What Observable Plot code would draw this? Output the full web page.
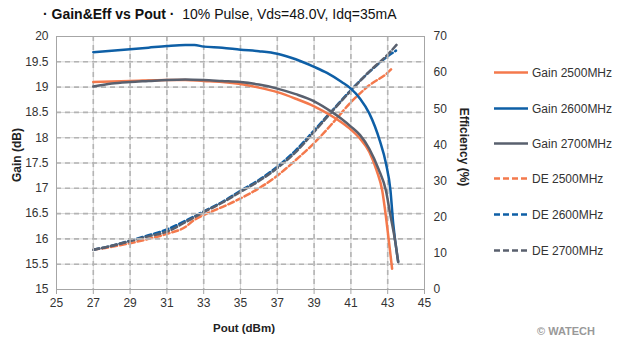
<!DOCTYPE html>
<html>
<head>
<meta charset="utf-8">
<script src="https://cdn.jsdelivr.net/npm/d3@7"></script>
<script src="https://cdn.jsdelivr.net/npm/@observablehq/plot@0.6"></script>
<style>
  body { margin: 0; background: #fff; }
  #wrap { position: relative; width: 617px; height: 351px; overflow: hidden; font-family: "Liberation Sans", Arial, sans-serif; color: #222; }
  #wrap > svg { position: absolute; left: 0; top: 0; background: transparent !important; }
  .abs { position: absolute; white-space: nowrap; line-height: 1; }
</style>
</head>
<body>
<div id="wrap"></div>
<script>
// ---- data ----
const xTicks = [25, 27, 29, 31, 33, 35, 37, 39, 41, 43, 45];
const gainTicks = [15, 15.5, 16, 16.5, 17, 17.5, 18, 18.5, 19, 19.5, 20];
const effTicks = [0, 10, 20, 30, 40, 50, 60, 70];

const gain2500Pout = [27, 29, 31, 32, 33, 34, 35, 36, 37, 38, 39, 40, 40.5, 41, 41.5, 42, 42.4, 42.7, 42.9, 43.06, 43.24];
const gain2500 =     [19.10, 19.12, 19.14, 19.14, 19.12, 19.10, 19.06, 18.99, 18.90, 18.77, 18.62, 18.42, 18.30, 18.16, 17.98, 17.72, 17.35, 16.96, 16.45, 15.97, 15.41];

const gain2600Pout = [27, 28, 29, 30, 31, 32, 32.5, 33, 34, 35, 36, 37, 38, 39, 39.7, 40.5, 41, 41.5, 42, 42.57, 42.9, 43.15, 43.3, 43.57];
const gain2600 =     [19.69, 19.72, 19.75, 19.78, 19.81, 19.83, 19.83, 19.80, 19.78, 19.74, 19.71, 19.66, 19.55, 19.40, 19.28, 19.10, 18.97, 18.77, 18.48, 17.94, 17.50, 16.96, 16.30, 15.55];

const gain2700Pout = [27, 28, 29, 30, 31, 32, 33, 34, 35, 36, 37, 38, 39, 40, 40.5, 41, 41.5, 42, 42.5, 42.9, 43.15, 43.4, 43.57];
const gain2700 =     [19.01, 19.07, 19.10, 19.12, 19.14, 19.15, 19.14, 19.12, 19.10, 19.05, 18.97, 18.86, 18.72, 18.50, 18.37, 18.22, 18.05, 17.78, 17.38, 16.96, 16.46, 15.97, 15.54];

const de2500Pout = [27, 28, 29, 30, 31, 32, 32.5, 33, 34, 35, 36, 37, 38, 39, 40, 41, 42, 43, 43.24];
const de2500 =     [11.0, 11.8, 12.8, 14.0, 15.4, 17.3, 19.3, 20.6, 22.8, 25.2, 28.0, 31.5, 35.8, 40.5, 46.0, 51.8, 56.5, 60.0, 61.2];

const de2600Pout = [27, 28, 29, 30, 31, 32, 33, 34, 35, 36, 37, 38, 39, 40, 41, 42, 43, 43.45];
const de2600 =     [11.0, 12.1, 13.5, 15.0, 16.6, 19.0, 21.6, 24.2, 27.3, 30.3, 34.0, 38.5, 44.0, 49.6, 55.2, 60.2, 64.5, 66.1];

const de2700Pout = [27, 28, 29, 30, 31, 32, 33, 34, 35, 36, 37, 38, 39, 40, 41, 42, 43, 43.57];
const de2700 =     [11.0, 12.1, 13.4, 14.7, 16.0, 18.6, 21.4, 24.0, 27.0, 30.0, 33.6, 38.0, 43.6, 49.4, 55.0, 60.3, 65.0, 68.2];

const seriesNames = ["Gain 2500MHz", "Gain 2600MHz", "Gain 2700MHz", "DE 2500MHz", "DE 2600MHz", "DE 2700MHz"];
const titleBold = "· Gain&Eff vs Pout ·";
const titleRest = "10% Pulse, Vds=48.0V, Idq=35mA";

// ---- styles ----
const ORANGE = "#f4794c", BLUE = "#0e5fa6", GRAY = "#59606e";
const colors = [ORANGE, BLUE, GRAY, ORANGE, BLUE, GRAY];
const dashes = [null, null, null, "6,3", "6,3", "6,3"];

const zip = (xs, ys) => xs.map((x, i) => ({x, y: ys[i]}));
const gainSeries = [zip(gain2500Pout, gain2500), zip(gain2600Pout, gain2600), zip(gain2700Pout, gain2700)];
const effSeries = [zip(de2500Pout, de2500), zip(de2600Pout, de2600), zip(de2700Pout, de2700)];

const xGridVals = xTicks.slice(1, -1), yGridVals = gainTicks.slice(1, -1);
const xDom = [xTicks[0], xTicks[xTicks.length - 1]], yDom = [gainTicks[0], gainTicks[gainTicks.length - 1]];

const W = 617, H = 351;
const M = {marginLeft: 56, marginRight: 193, marginTop: 36, marginBottom: 62};
const font = {fontFamily: "'Liberation Sans', Arial, sans-serif", fontSize: "12px", color: "#333", background: "transparent", overflow: "visible"};

// efficiency layer (underneath, right axis)
const p2 = Plot.plot({
  width: W, height: H, ...M, style: font,
  x: {domain: xDom, axis: null},
  y: {domain: [0, 70], axis: "right", ticks: effTicks, tickSize: 0, tickPadding: 9, tickFormat: d => String(d), label: null},
  marks: [
    ...effSeries.map((d, i) => Plot.line(d, {x: "x", y: "y", stroke: colors[i + 3], strokeWidth: 2.5, strokeDasharray: dashes[i + 3], curve: "monotone-x"}))
  ]
});

// gain layer with grid, frame, bottom and left axes
const p1 = Plot.plot({
  width: W, height: H, ...M, style: font,
  x: {domain: xDom, ticks: xTicks, tickSize: 5, tickPadding: 4, tickFormat: d => String(d), label: null},
  y: {domain: yDom, ticks: gainTicks, tickSize: 0, tickPadding: 8, tickFormat: d => String(d), label: null},
  marks: [
    Plot.ruleX(xGridVals, {x: d => d, stroke: "#d6d6d6", strokeWidth: 1}),
    Plot.ruleY(yGridVals, {y: d => d, stroke: "#d6d6d6", strokeWidth: 1}),
    Plot.ruleX(xGridVals, {x: d => d, stroke: "#b4b4b4", strokeWidth: 1.6, strokeDasharray: "5 4"}),
    Plot.ruleY(yGridVals, {y: d => d, stroke: "#b4b4b4", strokeWidth: 1.6, strokeDasharray: "5 4"}),
    Plot.frame({stroke: "#a6a6a6"}),
    ...gainSeries.map((d, i) => Plot.line(d, {x: "x", y: "y", stroke: colors[i], strokeWidth: 2.5, curve: "monotone-x"}))
  ]
});

const wrap = document.getElementById("wrap");
wrap.appendChild(p2);
wrap.appendChild(p1);
wrap.querySelectorAll("g[aria-label='x-axis tick']").forEach(g => g.setAttribute("stroke", "#a6a6a6"));

function addDiv(html, style) {
  const d = document.createElement("div");
  d.className = "abs";
  d.innerHTML = html;
  Object.assign(d.style, style);
  wrap.appendChild(d);
  return d;
}

// title
addDiv(`<b>${titleBold}</b>&nbsp;&nbsp;${titleRest}`, {left: "43px", top: "14px", fontSize: "14px", color: "#111", transform: "translateY(-50%)"});
// axis labels
addDiv("Gain (dB)", {left: "17px", top: "155px", fontSize: "12px", fontWeight: "bold", transform: "translate(-50%,-50%) rotate(-90deg)"});
addDiv("Efficiency (%)", {left: "464px", top: "147px", fontSize: "12px", fontWeight: "bold", transform: "translate(-50%,-50%) rotate(90deg)"});
addDiv("Pout (dBm)", {left: "244px", top: "329px", fontSize: "11.5px", fontWeight: "bold", transform: "translate(-50%,-50%)"});
addDiv("© WATECH", {left: "537px", top: "331px", fontSize: "11px", fontWeight: "bold", color: "#999", transform: "translateY(-50%)"});

// legend
const legY = [72, 108, 143, 178, 214, 250];
seriesNames.forEach((name, i) => {
  const dash = dashes[i] ? `stroke-dasharray="${dashes[i]}"` : "";
  addDiv(`<svg width="36" height="6" style="vertical-align:middle"><line x1="0" y1="3" x2="34" y2="3" stroke="${colors[i]}" stroke-width="2.5" ${dash}/></svg><span style="margin-left:2px;vertical-align:middle">${name}</span>`,
    {left: "494px", top: legY[i] + "px", fontSize: "12px", color: "#333", transform: "translateY(-50%)"});
});
</script>
</body>
</html>
